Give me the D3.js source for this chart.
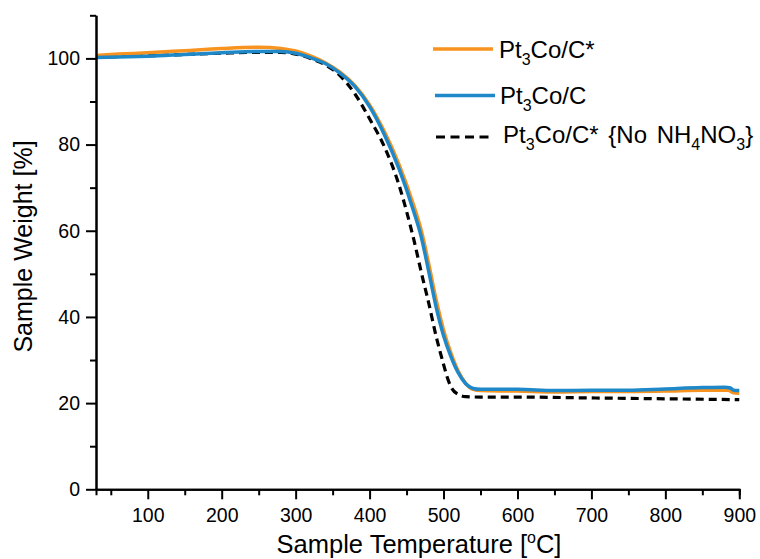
<!DOCTYPE html>
<html>
<head>
<meta charset="utf-8">
<script src="https://cdn.jsdelivr.net/npm/d3@7"></script>
<style>
  body { margin: 0; background: #fff; }
  svg { font-family: Arial, "Liberation Sans", sans-serif; }
</style>
</head>
<body>
<svg id="chart" width="760" height="559"></svg>
<script>
// TGA curves
const orangeT = [30, 60, 100, 150, 200, 250, 280, 300, 320, 340, 360, 380, 400, 420, 440, 460, 470, 480, 490, 500, 510, 520, 530, 540, 550, 600, 650, 700, 750, 800, 850, 885, 892, 900];
const orangeW = [100.7, 101.0, 101.3, 101.8, 102.3, 102.6, 102.3, 101.7, 100.6, 99.0, 96.8, 93.7, 89.2, 83.0, 75.3, 65.7, 60.0, 52.3, 44.0, 37.0, 31.6, 27.4, 24.6, 23.2, 22.9, 22.8, 22.6, 22.7, 22.7, 22.8, 23.0, 23.0, 22.4, 22.3];

const blueT = [30, 60, 100, 150, 200, 250, 280, 300, 320, 340, 360, 380, 400, 420, 440, 460, 470, 480, 490, 500, 510, 520, 530, 540, 550, 600, 650, 700, 750, 800, 850, 880, 888, 892, 900];
const blueW = [100.2, 100.3, 100.5, 100.9, 101.3, 101.6, 101.6, 101.2, 100.2, 98.8, 96.6, 93.5, 88.8, 82.3, 74.3, 64.3, 58.5, 50.5, 42.3, 35.7, 30.8, 27.0, 24.5, 23.4, 23.2, 23.2, 22.9, 23.0, 23.0, 23.3, 23.6, 23.7, 23.5, 23.0, 22.9];

const dashT = [30, 100, 150, 200, 250, 280, 300, 320, 340, 360, 380, 400, 420, 440, 450, 460, 470, 480, 490, 500, 505, 510, 520, 530, 550, 600, 700, 800, 900];
const dashW = [100.3, 100.6, 100.9, 101.2, 101.4, 101.4, 101.0, 100.0, 98.5, 96.0, 91.8, 86.0, 79.5, 70.5, 64.5, 57.8, 50.3, 43.2, 35.5, 29.0, 26.0, 23.8, 22.0, 21.5, 21.4, 21.4, 21.2, 21.0, 20.8];

const xTicks = [100, 200, 300, 400, 500, 600, 700, 800, 900];
const xMinor = [50, 150, 250, 350, 450, 550, 650, 750, 850];
const yTicks = [0, 20, 40, 60, 80, 100];
const yMinor = [10, 30, 50, 70, 90, 110];

const series = [
  { name: 'dash', t: dashT, w: dashW, color: '#000', width: 3.2, dash: '8,5' },
  { name: 'orange', t: orangeT, w: orangeW, color: '#f7931e', width: 3.5, dash: null },
  { name: 'blue', t: blueT, w: blueW, color: '#1e88c8', width: 3.5, dash: null }
];

const margin = { top: 15.3, left: 96 };
const width = 643.3;
const height = 474;

const svg = d3.select('#chart');
const g = svg.append('g').attr('transform', `translate(${margin.left},${margin.top})`);

const x = d3.scaleLinear().domain([30, 900]).range([0, width]);
const y = d3.scaleLinear().domain([0, 110]).range([height, 0]);

const line = d3.line()
  .x(d => x(d[0]))
  .y(d => y(d[1]))
  .curve(d3.curveMonotoneX);

series.forEach(s => {
  g.append('path')
    .datum(s.t.map((t, i) => [t, s.w[i]]))
    .attr('d', line)
    .attr('fill', 'none')
    .attr('stroke', s.color)
    .attr('stroke-width', s.width)
    .attr('stroke-dasharray', s.dash)
    .attr('stroke-linejoin', 'round');
});

// axes
const styleAxis = sel => {
  sel.select('.domain').attr('stroke', '#000').attr('stroke-width', 2);
  sel.selectAll('.tick line').attr('stroke', '#000').attr('stroke-width', 2);
  sel.selectAll('text').attr('fill', '#000').attr('font-size', 19.5);
};

g.append('g')
  .attr('transform', `translate(0,${height})`)
  .call(d3.axisBottom(x).tickValues(xMinor).tickSize(6).tickFormat(''))
  .call(styleAxis);
g.append('g')
  .attr('transform', `translate(0,${height})`)
  .call(d3.axisBottom(x).tickValues(xTicks).tickSize(10).tickPadding(9).tickSizeOuter(0))
  .call(styleAxis);

g.append('g')
  .call(d3.axisLeft(y).tickValues(yMinor).tickSize(6).tickFormat('').tickSizeOuter(0))
  .call(styleAxis);
g.append('g')
  .call(d3.axisLeft(y).tickValues(yTicks).tickSize(10).tickPadding(6).tickSizeOuter(0))
  .call(styleAxis);

// axis titles
const xt = svg.append('text')
  .attr('x', 419).attr('y', 553)
  .attr('text-anchor', 'middle')
  .attr('font-size', 25.5);
xt.append('tspan').text('Sample Temperature [');
xt.append('tspan').attr('font-size', 16).attr('dy', -10).text('o');
xt.append('tspan').attr('dy', 10).text('C]');

svg.append('text')
  .attr('transform', 'translate(32,246.5) rotate(-90)')
  .attr('text-anchor', 'middle')
  .attr('font-size', 25)
  .text('Sample Weight [%]');

// legend
const legendRows = [
  { color: '#f7931e', dash: null, ly: 49, by: 58, x1: 433, x2: 493, tx: 499, parts: [['Pt'], ['3', 1], ['Co/C*']] },
  { color: '#1e88c8', dash: null, ly: 95.5, by: 104, x1: 435, x2: 495, tx: 500, parts: [['Pt'], ['3', 1], ['Co/C']] },
  { color: '#000', dash: '9,5.5', ly: 137, by: 143, x1: 436, x2: 491, tx: 503, parts: [['Pt'], ['3', 1], ['Co/C* {No NH'], ['4', 1], ['NO'], ['3', 1], ['}']] }
];

legendRows.forEach(r => {
  svg.append('line')
    .attr('x1', r.x1).attr('x2', r.x2)
    .attr('y1', r.ly).attr('y2', r.ly)
    .attr('stroke', r.color)
    .attr('stroke-width', r.dash ? 3.2 : 3.5)
    .attr('stroke-dasharray', r.dash);
  const t = svg.append('text')
    .attr('x', r.tx).attr('y', r.by)
    .attr('font-size', 24)
    .attr('word-spacing', r.dash ? 3 : 0);
  let sub = false;
  r.parts.forEach(p => {
    const ts = t.append('tspan').text(p[0]);
    if (p[1]) {
      ts.attr('font-size', 16).attr('dy', 7);
      sub = true;
    } else if (sub) {
      ts.attr('dy', -7);
      sub = false;
    }
  });
});
</script>
</body>
</html>
